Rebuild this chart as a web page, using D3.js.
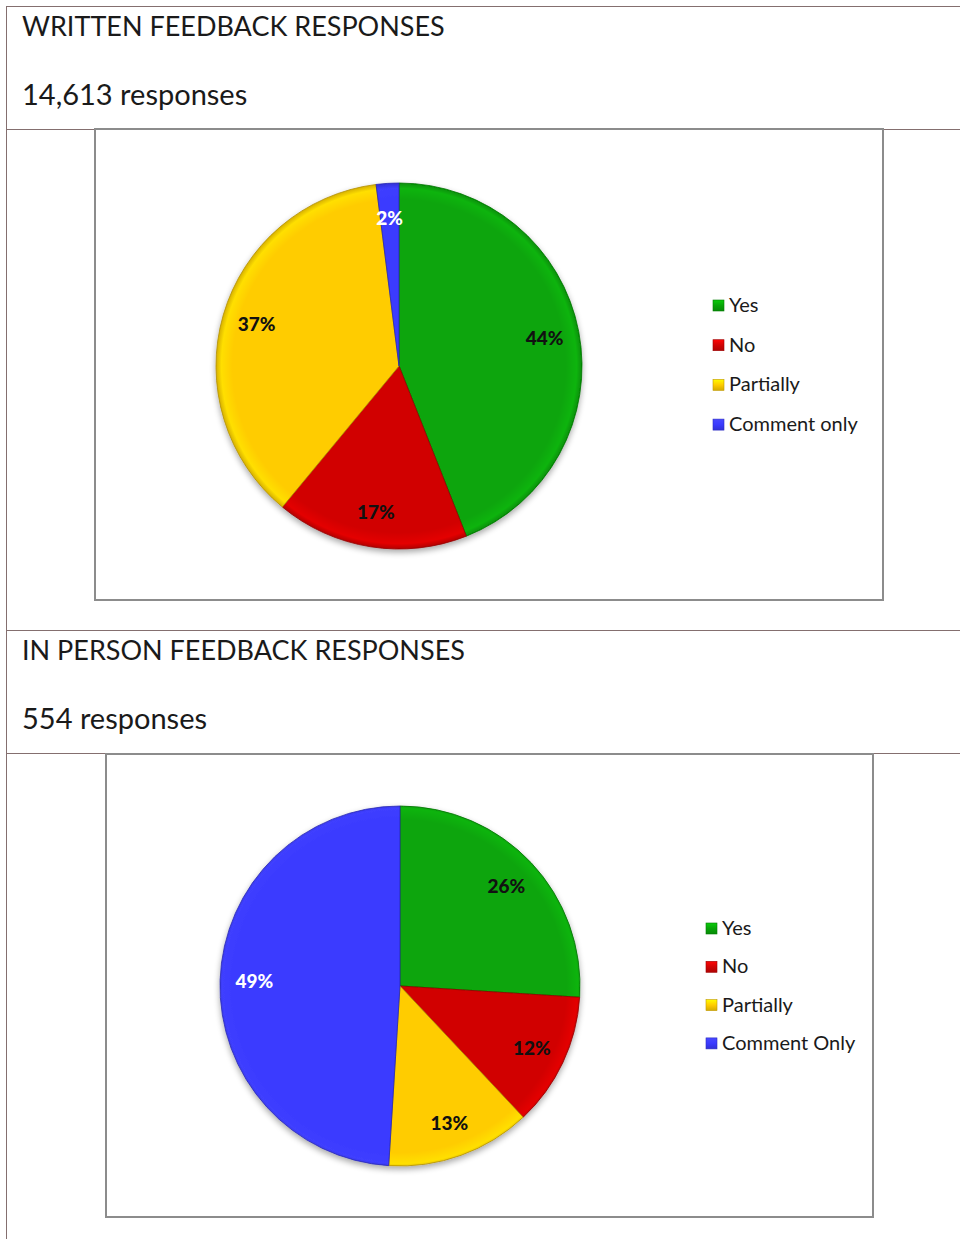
<!--
Feedback responses: two pie charts inside a table-like layout
-->
<body>
<script src="https://d3js.org/d3.v7.min.js"></script>
<style>
  body { margin: 0; background: #fff; }
  text { font-family: Lato, "Open Sans", sans-serif; }
</style>
<script>
// data
var categories = ["Yes", "No", "Partially", "Comment only"];
var categories2 = ["Yes", "No", "Partially", "Comment Only"];
var writtenValues = [44, 17, 37, 2];
var inPersonValues = [26, 12, 13, 49];
var sectionTitles = ["WRITTEN FEEDBACK RESPONSES", "IN PERSON FEEDBACK RESPONSES"];
var sectionCounts = ["14,613 responses", "554 responses"];

var colors = ["#08a508", "#d10404", "#ffcc00", "#3a3aff"];
var labelColors = ["#111", "#111", "#111", "#fff"];

var width = 960, height = 1239;

var svg = d3.select("body").append("svg")
  .attr("width", width)
  .attr("height", height);

var defs = svg.append("defs");

// soft shadow under the pies
var shadow = defs.append("filter").attr("id", "shadow")
  .attr("x", "-20%").attr("y", "-20%").attr("width", "140%").attr("height", "140%");
shadow.append("feGaussianBlur").attr("in", "SourceAlpha").attr("stdDeviation", 3);
shadow.append("feOffset").attr("dx", 0).attr("dy", 3).attr("result", "blur");
shadow.append("feComponentTransfer").append("feFuncA").attr("type", "linear").attr("slope", 0.35);
var merge = shadow.append("feMerge");
merge.append("feMergeNode");
merge.append("feMergeNode").attr("in", "SourceGraphic");

// slice gradients, flat middle and darker rim
colors.forEach(function(c, i) {
  var g = defs.append("radialGradient").attr("id", "grad" + i)
    .attr("gradientUnits", "userSpaceOnUse")
    .attr("cx", 0).attr("cy", 0).attr("r", 185);
  g.append("stop").attr("offset", "0.90").attr("stop-color", c);
  g.append("stop").attr("offset", "0.96").attr("stop-color", d3.color(c).brighter(0.25));
  g.append("stop").attr("offset", "1").attr("stop-color", d3.color(c).darker(0.7));

  var lg = defs.append("linearGradient").attr("id", "leg" + i)
    .attr("x1", 0).attr("y1", 0).attr("x2", 0).attr("y2", 1);
  lg.append("stop").attr("offset", "0").attr("stop-color", d3.color(c).brighter(0.6));
  lg.append("stop").attr("offset", "0.5").attr("stop-color", c);
  lg.append("stop").attr("offset", "1").attr("stop-color", d3.color(c).darker(0.5));
});

// table lines
var lineColor = "#846f6f";
[6, 129, 630, 753].forEach(function(y) {
  svg.append("line").attr("x1", 6).attr("x2", width).attr("y1", y + 0.5).attr("y2", y + 0.5)
    .attr("stroke", lineColor).attr("stroke-width", 1);
});
svg.append("line").attr("x1", 6.5).attr("x2", 6.5).attr("y1", 6).attr("y2", height)
  .attr("stroke", lineColor).attr("stroke-width", 1);

// headers
[{ y: 36, i: 0 }, { y: 660, i: 1 }].forEach(function(h) {
  svg.append("text").attr("x", 22).attr("y", h.y)
    .style("font-size", "27px").attr("fill", "#1a1a1a")
    .text(sectionTitles[h.i]);
  svg.append("text").attr("x", 22).attr("y", h.y + 69)
    .style("font-size", "29px").attr("fill", "#1a1a1a")
    .text(sectionCounts[h.i]);
});

function drawChart(opts) {
  // chart frame
  svg.append("rect")
    .attr("x", opts.box[0]).attr("y", opts.box[1])
    .attr("width", opts.box[2]).attr("height", opts.box[3])
    .attr("fill", "#fff").attr("stroke", "#8c8c8c").attr("stroke-width", 2);

  var pie = d3.pie().sort(null).value(function(d) { return d; });
  var arcs = pie(opts.values);
  var arc = d3.arc().innerRadius(0).outerRadius(opts.r);
  var labelArc = d3.arc().innerRadius(opts.r * 0.81).outerRadius(opts.r * 0.81);

  var g = svg.append("g").attr("transform", "translate(" + opts.cx + "," + opts.cy + ")");
  var slices = g.append("g").attr("filter", "url(#shadow)");
  slices.selectAll("path").data(arcs).enter().append("path")
    .attr("d", arc)
    .attr("fill", function(d, i) { return "url(#grad" + i + ")"; })
    .attr("stroke", function(d, i) { return d3.color(colors[i]).darker(1); })
    .attr("stroke-width", 0.8)
    .attr("stroke-linejoin", "round");

  g.selectAll("text.lbl").data(arcs).enter().append("text")
    .attr("class", "lbl")
    .attr("transform", function(d) { return "translate(" + labelArc.centroid(d) + ")"; })
    .attr("text-anchor", "middle")
    .attr("dy", "0.35em")
    .style("font-size", "19px").style("font-weight", "900")
    .attr("fill", function(d, i) { return labelColors[i]; })
    .text(function(d) { return d.data + "%"; });

  // legend
  var leg = svg.append("g").attr("transform", "translate(" + opts.legX + "," + opts.legY + ")");
  var rows = leg.selectAll("g").data(opts.labels).enter().append("g")
    .attr("transform", function(d, i) { return "translate(0," + (i * opts.legStep) + ")"; });
  rows.append("rect").attr("x", 0).attr("y", -5).attr("width", 11).attr("height", 11)
    .attr("fill", function(d, i) { return "url(#leg" + i + ")"; })
    .attr("stroke", function(d, i) { return d3.color(colors[i]).darker(0.8); })
    .attr("stroke-width", 0.6);
  rows.append("text").attr("x", 16).attr("dy", "0.35em")
    .style("font-size", "20px").attr("fill", "#1a1a1a")
    .text(function(d) { return d; });
}

drawChart({
  box: [95, 129, 788, 471],
  cx: 399, cy: 366, r: 183,
  values: writtenValues, labels: categories,
  legX: 713, legY: 305, legStep: 39.7
});

drawChart({
  box: [106, 754, 767, 463],
  cx: 400, cy: 986, r: 180,
  values: inPersonValues, labels: categories2,
  legX: 706, legY: 928, legStep: 38.3
});
</script>
</body>
